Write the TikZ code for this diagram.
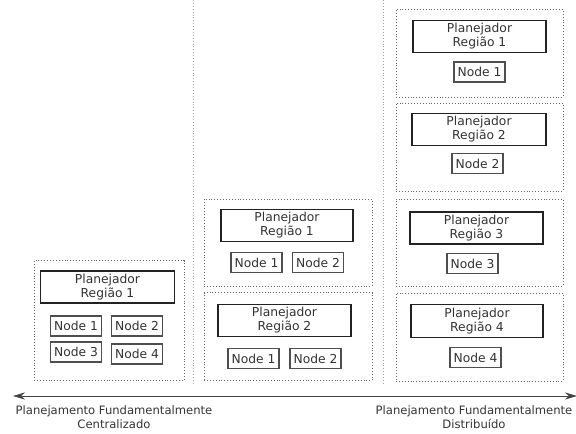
\documentclass[tikz,border=0pt]{standalone}
\usepackage{fontspec}
\setsansfont{DejaVu Sans}
\usetikzlibrary{arrows.meta}
\definecolor{ink}{HTML}{222222}
\definecolor{muted}{HTML}{333333}
\definecolor{line}{HTML}{666666}
\tikzset{
  font=\sffamily\fontsize{12.3pt}{14pt}\selectfont,
  panel/.style={draw=line, dotted, line width=0.9pt},
  sep/.style={draw=line!60, dotted, line width=0.9pt},
  box/.style={draw=ink, line width=1.2pt, fill=white, align=center, text=muted, inner sep=1pt},
  smallbox/.style={draw=ink!80, line width=1.6pt, fill=white, text=muted, inner sep=1pt},
  arrow/.style={{Stealth[length=4.2mm,width=2.5mm]}-{Stealth[length=4.2mm,width=2.5mm]}, line width=0.8pt, draw=ink!85},
  note/.style={text=muted, align=center, font=\sffamily\fontsize{11.6pt}{14pt}\selectfont}
}

\begin{document}
\begin{tikzpicture}[x=1pt,y=-1pt]
\useasboundingbox (0,0) rectangle (576,434);

% Separators
\coordinate (s1t) at (193,0);
\coordinate (s1b) at (193,384);
\coordinate (s2t) at (383,0);
\coordinate (s2b) at (383,384);
\draw[sep] (s1t) -- (s1b);
\draw[sep] (s2t) -- (s2b);

% Centralized
\node[panel, minimum width=150, minimum height=120] (c1) at (109,320.5) {};
\node[box, minimum width=134, minimum height=32] (c1p) at (107.5,287) {Planejador\\Região 1};
\node[smallbox, minimum width=51, minimum height=20] (c1n1) at (76,326) {Node 1};
\node[smallbox, minimum width=51, minimum height=20] (c1n2) at (137,326) {Node 2};
\node[smallbox, minimum width=51, minimum height=20] (c1n3) at (76,352) {Node 3};
\node[smallbox, minimum width=51, minimum height=20] (c1n4) at (137,354) {Node 4};

% Two regions
\node[panel, minimum width=168, minimum height=87] (r1) at (288,242.5) {};
\node[box, minimum width=132, minimum height=32] (r1p) at (287,225.5) {Planejador\\Região 1};
\node[smallbox, minimum width=51, minimum height=20] (r1n1) at (256.5,262.5) {Node 1};
\node[smallbox, minimum width=51, minimum height=20] (r1n2) at (318,262.5) {Node 2};

\node[panel, minimum width=168, minimum height=88] (r2) at (288,336.5) {};
\node[box, minimum width=133, minimum height=32] (r2p) at (284.5,320.5) {Planejador\\Região 2};
\node[smallbox, minimum width=51, minimum height=20] (r2n1) at (253.5,358.5) {Node 1};
\node[smallbox, minimum width=51, minimum height=20] (r2n2) at (315.5,358.5) {Node 2};

% Distributed
\node[panel, minimum width=167, minimum height=88] (d1) at (479.5,53) {};
\node[box, minimum width=133, minimum height=32] (d1p) at (479.5,36.5) {Planejador\\Região 1};
\node[smallbox, minimum width=51, minimum height=20] (d1n) at (479.5,72) {Node 1};

\node[panel, minimum width=167, minimum height=88] (d2) at (479.5,147) {};
\node[box, minimum width=134, minimum height=32] (d2p) at (479,129.5) {Planejador\\Região 2};
\node[smallbox, minimum width=51, minimum height=20] (d2n) at (477.5,163.5) {Node 2};

\node[panel, minimum width=167, minimum height=87] (d3) at (479.5,242.5) {};
\node[box, minimum width=133, minimum height=32] (d3p) at (476.5,228) {Planejador\\Região 3};
\node[smallbox, minimum width=51, minimum height=20] (d3n) at (472.5,263.5) {Node 3};

\node[panel, minimum width=167, minimum height=88] (d4) at (479.5,337) {};
\node[box, minimum width=132, minimum height=33] (d4p) at (477,321) {Planejador\\Região 4};
\node[smallbox, minimum width=51, minimum height=20] (d4n) at (475.5,357.5) {Node 4};

% Axis
\coordinate (aL) at (13,396);
\coordinate (aR) at (577,396);
\draw[arrow] (aL) -- (aR);
\node[note] (lc) at (114,417) {Planejamento Fundamentalmente\\Centralizado};
\node[note] (ld) at (474,417) {Planejamento Fundamentalmente\\Distribuído};

\end{tikzpicture}
\end{document}
